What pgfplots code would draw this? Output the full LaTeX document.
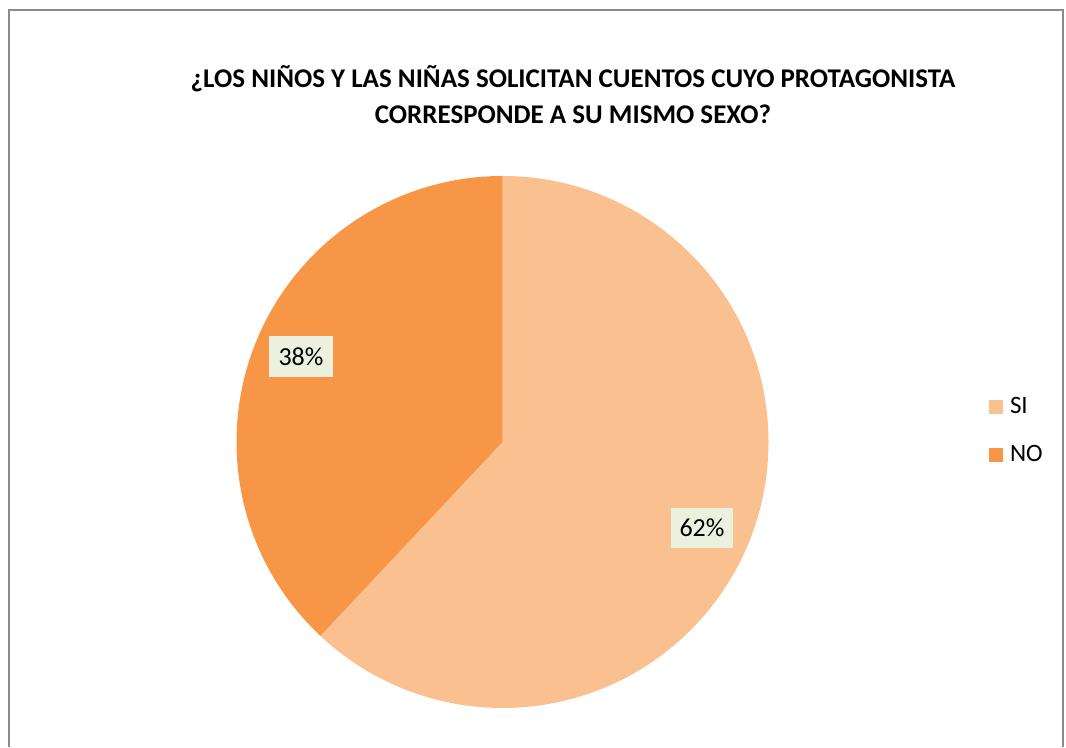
\documentclass[border=0pt]{standalone}
\usepackage{fontspec}
\setmainfont{Carlito}
\usepackage{pgfplots}
\usepackage{pgfplotstable}
\usetikzlibrary{calc}
\pgfplotsset{compat=1.18}
\definecolor{siC}{HTML}{FAC090}
\definecolor{noC}{HTML}{F79646}
\definecolor{lblC}{HTML}{EBF1DE}
\definecolor{frameC}{HTML}{8C8C8C}
\pgfplotstableread{
label value
SI 62
NO 38
}\piedata
\pgfplotstablegetelem{0}{value}\of\piedata \edef\vSI{\pgfplotsretval}
\pgfplotstablegetelem{1}{value}\of\piedata \edef\vNO{\pgfplotsretval}
\pgfmathsetmacro{\aSI}{90-3.6*\vSI}
\pgfmathsetmacro{\aNO}{\aSI-3.6*\vNO}
\begin{document}
\begin{tikzpicture}
\begin{axis}[
  scale only axis, width=533pt, height=373.5pt,
  xmin=0, xmax=1066, ymin=0, ymax=747,
  hide axis, clip=false,
  legend style={at={(axis cs:989,316)}, anchor=west, draw=none, fill=none,
    font=\fontsize{12.5pt}{14pt}\selectfont,
    nodes={text height=9pt, text depth=2pt, inner sep=0pt},
    row sep=13pt,
    inner sep=0pt, outer sep=0pt,
    /tikz/every odd column/.append style={column sep=3.5pt}},
  legend cell align=left,
  legend image code/.code={\fill[#1, draw=none] (0pt,-3.5pt) rectangle (7pt,3.5pt);},
]
% full area
\path (axis cs:0,0) rectangle (axis cs:1066,747);
% frame
\draw[frameC, line width=1pt] (axis cs:9,0) -- (axis cs:9,737) -- (axis cs:1063,737) -- (axis cs:1063,0);
% wedges
\fill[siC] (axis cs:502.5,305) -- (axis cs:502.5,571) arc[start angle=90, end angle=\aSI, radius=133pt] -- cycle;
\fill[noC] (axis cs:502.5,305) -- ($(axis cs:502.5,305)+(\aSI:133pt)$) arc[start angle=\aSI, end angle=\aNO, radius=133pt] -- cycle;
\addlegendimage{fill=siC, draw=none}
\addlegendentry{SI}
\addlegendimage{fill=noC, draw=none}
\addlegendentry{NO}
% labels
\node[fill=lblC, minimum width=32pt, minimum height=20.5pt, inner sep=0pt,
  font=\fontsize{13pt}{14pt}\selectfont] at (axis cs:301,390) {\vNO\%};
\node[fill=lblC, minimum width=31pt, minimum height=20pt, inner sep=0pt,
  font=\fontsize{13pt}{14pt}\selectfont] at (axis cs:702,219) {\vSI\%};
% title
\node[align=center, font=\bfseries\fontsize{13.5pt}{18pt}\selectfont] at (axis cs:573,652)
  {¿LOS NIÑOS Y LAS NIÑAS SOLICITAN CUENTOS CUYO PROTAGONISTA\\CORRESPONDE A SU MISMO SEXO?};
\end{axis}
\end{tikzpicture}
\end{document}
